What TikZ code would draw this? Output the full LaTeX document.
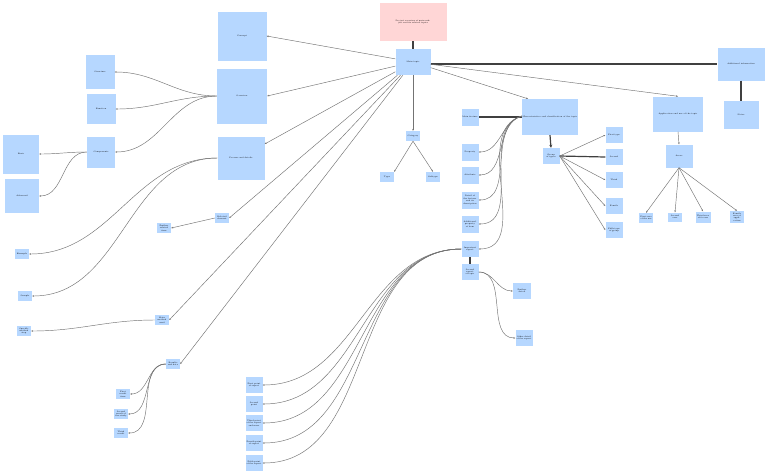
\documentclass[tikz,border=0pt]{standalone}
\usetikzlibrary{arrows.meta}
\definecolor{nodeblue}{RGB}{182,215,255}
\definecolor{nodepink}{RGB}{255,214,214}
\tikzset{
  bx/.style={fill=nodeblue, draw=none, inner sep=0.5pt, align=center, font=\fontsize{2}{2.4}\selectfont},
  pk/.style={bx, fill=nodepink},
  ln/.style={draw=black!55, line width=0.45pt},
  ar/.style={ln, -{Stealth[length=2pt,width=1.6pt]}},
  thk/.style={draw=black!75, line width=1.2pt},
  thkar/.style={thk, -{Stealth[length=3pt,width=3pt]}},
}
\begin{document}
\begin{tikzpicture}[x=1pt,y=-1pt]
\useasboundingbox[fill=white] (0,0) rectangle (768,475);
% nodes
\node[pk, minimum width=67pt, minimum height=38pt, text width=60pt] (title) at (413,22) {Project overview of main subject and its related topics};
\node[bx, minimum width=35pt, minimum height=26pt] (ctr) at (413,62) {Main topic};
\node[bx, minimum width=49pt, minimum height=49pt] (big1) at (242,36) {Concept};
\node[bx, minimum width=50pt, minimum height=55pt] (big2) at (242,96) {Overview};
\node[bx, minimum width=47pt, minimum height=43pt] (big3) at (241,158) {Process and details};
\node[bx, minimum width=29pt, minimum height=34pt] (A1) at (100,72) {Structure};
\node[bx, minimum width=29pt, minimum height=30pt] (A2) at (101,109) {Function};
\node[bx, minimum width=28pt, minimum height=31pt] (A3) at (101,152) {Components};
\node[bx, minimum width=36pt, minimum height=39pt] (B1) at (21,154) {Basic};
\node[bx, minimum width=34pt, minimum height=34pt] (B2) at (22,196) {Advanced};
\node[bx, minimum width=14pt, minimum height=10pt] (C1) at (413,136) {Category};
\node[bx, minimum width=14pt, minimum height=10pt] (C1a) at (387,177) {Type};
\node[bx, minimum width=14pt, minimum height=10pt] (C1b) at (433,177) {Subtype};
\node[bx, minimum width=14pt, minimum height=10pt, text width=12pt] (D1) at (222,218) {Related element};
\node[bx, minimum width=14pt, minimum height=10pt, text width=12pt] (D1a) at (164,228) {Further related item};
\node[bx, minimum width=14pt, minimum height=10pt] (E1) at (22,254) {Example};
\node[bx, minimum width=14pt, minimum height=10pt] (E2) at (25,296) {Sample};
\node[bx, minimum width=14pt, minimum height=10pt, text width=12pt] (F1) at (162,320) {Main method used};
\node[bx, minimum width=14pt, minimum height=10pt, text width=12pt] (F1a) at (24,331) {Specific method step};
\node[bx, minimum width=14pt, minimum height=10pt, text width=12pt] (G1) at (173,364) {Results and data};
\node[bx, minimum width=14pt, minimum height=10pt, text width=12pt] (G1a) at (123,394) {First result item};
\node[bx, minimum width=14pt, minimum height=10pt, text width=12pt] (G1b) at (121,414) {Second result of the study};
\node[bx, minimum width=14pt, minimum height=10pt, text width=12pt] (G1c) at (121,433) {Third result};
\node[bx, minimum width=55pt, minimum height=36pt] (H) at (550,117) {Characteristics and classification of the topic};
\node[bx, minimum width=17pt, minimum height=17pt] (H1) at (470,117) {Main feature};
\node[bx, minimum width=17pt, minimum height=17pt] (H2) at (470,152) {Property};
\node[bx, minimum width=17pt, minimum height=17pt] (H3) at (470,175) {Attribute};
\node[bx, minimum width=17pt, minimum height=17pt, text width=15pt] (H4) at (470,200) {Detail of the feature and its description};
\node[bx, minimum width=17pt, minimum height=17pt, text width=15pt] (H5) at (470,224) {Additional property of item};
\node[bx, minimum width=17pt, minimum height=16pt, text width=15pt] (H6) at (470,249) {Important aspect};
\node[bx, minimum width=17pt, minimum height=16pt, text width=15pt] (H7) at (470,272) {Second aspect of topic};
\node[bx, minimum width=18pt, minimum height=16pt, text width=15pt] (L1) at (522,291) {Further detail};
\node[bx, minimum width=17pt, minimum height=16pt, text width=15pt] (L2) at (524,338) {Other detail of the aspect};
\node[bx, minimum width=17pt, minimum height=16pt, text width=15pt] (M) at (551,156) {Group of types};
\node[bx, minimum width=17pt, minimum height=16pt, text width=15pt] (M1) at (614,135) {First type};
\node[bx, minimum width=17pt, minimum height=16pt, text width=15pt] (M2) at (614,157) {Second};
\node[bx, minimum width=17pt, minimum height=16pt, text width=15pt] (M3) at (614,180) {Third};
\node[bx, minimum width=17pt, minimum height=16pt, text width=15pt] (M4) at (614,206) {Fourth};
\node[bx, minimum width=17pt, minimum height=16pt, text width=15pt] (M5) at (614,230) {Fifth type of group};
\node[bx, minimum width=17pt, minimum height=16pt, text width=15pt] (K1) at (254,385) {First point of aspect};
\node[bx, minimum width=17pt, minimum height=16pt, text width=15pt] (K2) at (254,404) {Second point};
\node[bx, minimum width=17pt, minimum height=16pt, text width=15pt] (K3) at (254,423) {Third point of the aspect and more};
\node[bx, minimum width=17pt, minimum height=16pt, text width=15pt] (K4) at (254,443) {Fourth point of aspect};
\node[bx, minimum width=17pt, minimum height=16pt, text width=15pt] (K5) at (254,463) {Fifth point of the aspect};
\node[bx, minimum width=47pt, minimum height=33pt] (T) at (741,64) {Additional information};
\node[bx, minimum width=35pt, minimum height=28pt] (T1) at (741,115) {Notes};
\node[bx, minimum width=50pt, minimum height=35pt] (J) at (678,114) {Application and use of the topic};
\node[bx, minimum width=27pt, minimum height=23pt] (J0) at (679,156) {Areas};
\node[bx, minimum width=14pt, minimum height=10pt, text width=12pt] (Ja) at (646,218) {First area of the use};
\node[bx, minimum width=14pt, minimum height=9pt, text width=12pt] (Jb) at (675,217) {Second area};
\node[bx, minimum width=15pt, minimum height=11pt, text width=13pt] (Jc) at (703,217) {Third area of its use};
\node[bx, minimum width=14pt, minimum height=12pt, text width=12pt] (Jd) at (737,217) {Fourth area of application};
% thick connectors
\draw[thk] (title.south) -- (ctr.north);
\draw[thk] (ctr.east |- T.west) -- (T.west);
\draw[thk] (T.south) -- (T1.north);
\draw[thk] (H.west |- H1.east) -- (H1.east);
\draw[thkar] (H.south) -- (M.north);
\draw[thk] (M.east) -- (M2.west);
\draw[thk] (H6.south) -- (H7.north);
% straight arrows from centre
\draw[ar] (ctr) -- (big1.east);
\draw[ar] (ctr) -- (big2.east);
\draw[ar] (ctr) -- ([yshift=14pt]big3.east);
\draw[ar] (ctr) -- (D1.east);
\draw[ar] (ctr) -- (F1.east);
\draw[ar] (ctr) -- (G1.east);
\draw[ar] (ctr) -- (C1.north);
\draw[ar] (ctr) -- ([xshift=-22pt]H.north);
\draw[ar] (ctr) -- (J.north);
\draw[ar] (C1.south) -- (C1a.north east);
\draw[ar] (C1.south) -- (C1b.north);
\draw[ar] (D1.west) -- (D1a.east);
\draw[ar] (J.south) -- (J0.north);
\foreach \n in {Ja,Jb,Jc,Jd} \draw[ar] (J0.south) -- (\n.north);
\foreach \n in {M1,M3,M4,M5} \draw[ar] (M.east) -- (\n.west);
% curved connectors
\foreach \n in {A1,A2,A3} \draw[ar] (big2.west) to[out=180,in=0] (\n.east);
\foreach \n in {B1,B2} \draw[ar] (A3.west) to[out=180,in=0] (\n.east);
\foreach \n in {E1,E2} \draw[ar] (big3.west) to[out=180,in=0] (\n.east);
\draw[ar] (F1.west) to[out=180,in=0] (F1a.east);
\foreach \n in {G1a,G1b,G1c} \draw[ar] (G1.west) to[out=180,in=0] (\n.east);
\foreach \n in {H2,H3,H4,H5,H6} \draw[ar] ([yshift=1pt]H.west) to[out=195,in=0] (\n.east);
\foreach \n in {K1,K2,K3,K4,K5} \draw[ar] (H6.west) to[out=180,in=0] (\n.east);
\foreach \n in {L1,L2} \draw[ar] (H7.east) to[out=0,in=180] (\n.west);
\end{tikzpicture}
\end{document}
